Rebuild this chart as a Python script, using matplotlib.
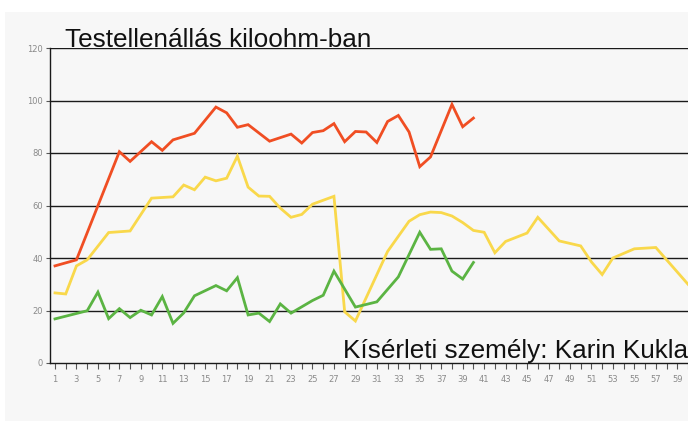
import matplotlib
matplotlib.use("Agg")
import matplotlib.pyplot as plt
from matplotlib.patches import Rectangle

# ---- data ----
red_x = [1, 3, 7, 8, 10, 11, 12, 14, 16, 17, 18, 19, 21, 23, 24, 25, 26, 27, 28, 29,
         30, 31, 32, 33, 34, 35, 36, 38, 39, 40]
red_y = [37, 39.3, 80.5, 76.8, 84.3, 81, 85, 87.5, 97.5, 95.3, 89.8, 90.8, 84.5, 87.2, 83.8, 87.8, 88.5, 91.2, 84.3, 88.2,
         88, 84, 92, 94.3, 88, 74.8, 78.5, 98.5, 90, 93.3]

yel_x = [1, 2, 3, 4, 6, 8, 10, 12, 13, 14, 15, 16, 17, 18, 19, 20, 21, 22, 23, 24, 25, 27,
         28, 29, 32, 34, 35, 36, 37, 38, 39, 40, 41, 42, 43, 45, 46, 48, 50, 51, 52, 53, 55, 57, 60]
yel_y = [26.7, 26.3, 37, 39.3, 49.7, 50.3, 62.8, 63.3, 67.8, 66, 70.8, 69.4, 70.4, 78.8, 67, 63.6, 63.5, 59, 55.5, 56.6, 60.5, 63.5,
         19.5, 16, 42.5, 54, 56.5, 57.5, 57.3, 56, 53.5, 50.5, 49.8, 42, 46.3, 49.5, 55.5, 46.5, 44.6, 38.5, 33.7, 40, 43.5, 44, 30]

grn_x = [1, 4, 5, 6, 7, 8, 9, 10, 11, 12, 13, 14, 16, 17, 18, 19, 20, 21, 22, 23, 25, 26, 27,
         29, 31, 33, 35, 36, 37, 38, 39, 40]
grn_y = [16.8, 19.9, 27, 16.9, 20.7, 17.3, 20.1, 18.3, 25.3, 15.1, 19.1, 25.6, 29.5, 27.5, 32.5, 18.3, 19, 15.8, 22.5, 19,
         23.8, 25.8, 35, 21.3, 23.3, 32.8, 49.8, 43.3, 43.5, 35, 32, 38.3]

y_ticks = [0, 20, 40, 60, 80, 100, 120]
x_ticks = list(range(1, 61))
x_labels = [str(i) if i % 2 == 1 else "" for i in x_ticks]

title = "Testellenállás kiloohm-ban"
subtitle = "Kísérleti személy: Karin Kukla"

# ---- figure ----
W, H = 688, 421
fig = plt.figure(figsize=(W / 100, H / 100), dpi=100)
fig.patch.set_facecolor("white")
fig.patches.append(Rectangle((5 / W, 0), 1 - 5 / W, (H - 12) / H, transform=fig.transFigure,
                             facecolor="#f7f7f7", edgecolor="none", zorder=-5))

left_px, bottom_px, top_px = 50, 363, 48
ax = fig.add_axes([left_px / W, (H - bottom_px) / H, 1 - left_px / W, (bottom_px - top_px) / H])
ax.set_facecolor("none")
ax.set_zorder(2)

x_right = 59.96
x_left = 1 - 5 / 10.74
ax.set_xlim(x_left, x_right)
ax.set_ylim(0, 120)

for v in y_ticks[1:]:
    ax.axhline(v, color="#1a1a1a", lw=1.0, zorder=1)

lw = 2.0
ax.plot(red_x, red_y, color="#f04e23", lw=lw, zorder=3, solid_joinstyle="miter")
ax.plot(yel_x, yel_y, color="#f9d84b", lw=lw, zorder=3, solid_joinstyle="miter")
ax.plot(grn_x, grn_y, color="#5bb443", lw=lw, zorder=3, solid_joinstyle="miter")

for s in ["top", "right"]:
    ax.spines[s].set_visible(False)
ax.spines["left"].set_color("#1a1a1a")
ax.spines["bottom"].set_color("#1a1a1a")
ax.spines["left"].set_linewidth(1.0)
ax.spines["bottom"].set_linewidth(1.0)

ax.set_yticks(y_ticks)
ax.set_yticklabels([str(v) for v in y_ticks])
ax.set_xticks(x_ticks)
ax.set_xticklabels(x_labels)
ax.tick_params(axis="y", length=3, width=0.8, color="#555555", labelsize=6, labelcolor="#8a8a8a", pad=2)
ax.tick_params(axis="x", length=4, width=0.8, color="#555555", labelsize=6, labelcolor="#8a8a8a", pad=5)

fig.text(65 / W, (H - 47) / H, title, fontsize=18.8, family="Liberation Sans", color="#111111",
         ha="left", va="baseline", zorder=5)
fig.text(343 / W, (H - 358) / H, subtitle, fontsize=18.8, family="Liberation Sans", color="#111111",
         ha="left", va="baseline", zorder=5)

fig.savefig("out.png", dpi=100)
